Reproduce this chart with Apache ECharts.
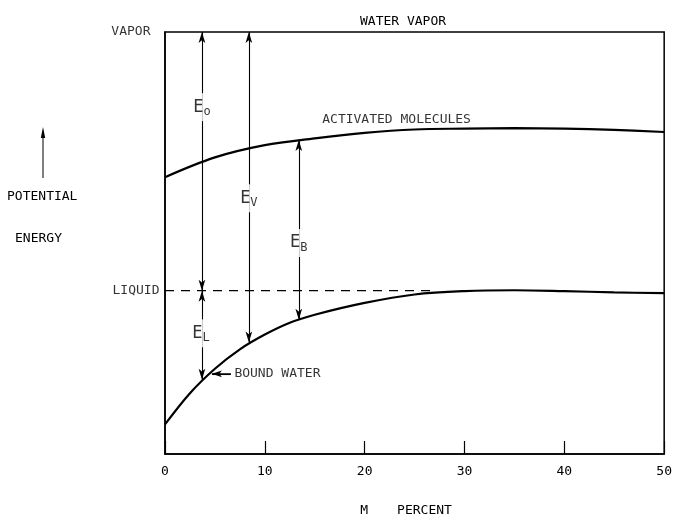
<!DOCTYPE html>
<html><head><meta charset="utf-8">
<script src="https://cdn.jsdelivr.net/npm/echarts@6/dist/echarts.min.js"></script>
<style>html,body{margin:0;padding:0;background:#fff}#c{width:675px;height:522px}</style>
</head><body><div id="c"></div>
<script>
// ---- data (energy on an arbitrary 0..100 scale, M in percent) ----
const xTicks = [0, 10, 20, 30, 40, 50];
const activatedM = [0, 5, 10, 15, 20, 25, 30, 35, 40, 45, 50];
const activatedE = [65.6, 70.3, 73.2, 74.8, 76.1, 76.9, 77.1, 77.2, 77.1, 76.8, 76.3];
const boundM = [0, 2.5, 5, 7.5, 10, 12.5, 15, 20, 25, 30, 35, 40, 45, 50];
const boundE = [7.0, 14.4, 20.2, 24.8, 28.3, 31.1, 33.0, 35.8, 37.8, 38.6, 38.8, 38.6, 38.3, 38.1];
const vaporE = 100;
const liquidE = 38.7;
const liquidEndM = 27;
// energy arrows: position M, from E, to E
const arrowM = [3.7, 3.7, 8.4, 13.4];
const arrowFrom = [38.7, 38.7, 100, 74.4];
const arrowTo = [100, 17.6, 26.4, 31.8];
// energy labels
const eLabelText = ['E{s|o}', 'E{s|V}', 'E{s|B}', 'E{s|L}'];
const eLabelM = [3.7, 8.4, 13.4, 3.6];
const eLabelE = [82.2, 60.6, 50.0, 28.6];
// curve names
const curveLabels = ['ACTIVATED MOLECULES', 'BOUND WATER'];
const curveLabelM = [15.7, 6.9];
const curveLabelE = [79.3, 19.0];
const boundPointerM = [4.7, 6.6];
const boundPointerE = 19.0;

const FONT = '"DejaVu Sans Mono", monospace';
const INK = '#000';

const chart = echarts.init(document.getElementById('c'), null, {renderer: 'canvas'});

const zip = (a, b) => a.map((v, i) => [v, b[i]]);

const arrowLines = arrowM.map((m, i) => [{coord: [m, arrowFrom[i]]}, {coord: [m, arrowTo[i]]}]);

const option = {
  animation: false,
  backgroundColor: '#fff',
  title: {
    text: 'WATER VAPOR', left: 355, top: 10,
    textStyle: {fontFamily: FONT, fontSize: 13, fontWeight: 'normal', color: INK}
  },
  grid: {left: 165, right: 9, top: 32, bottom: 64, show: true, borderColor: INK, borderWidth: 1.5, backgroundColor: 'transparent'},
  xAxis: {
    type: 'value', min: 0, max: 50, interval: 10,
    axisLine: {show: true, lineStyle: {color: INK, width: 1.5}},
    axisTick: {show: true, inside: true, length: 13, lineStyle: {color: INK, width: 1.2}},
    axisLabel: {margin: 11, fontFamily: FONT, fontSize: 13, color: INK, customValues: xTicks},
    splitLine: {show: false},
    name: '{a|M}{b|PERCENT}', nameLocation: 'middle', nameGap: 50,
    nameTextStyle: {fontFamily: FONT, fontSize: 13, color: INK,
      rich: {a: {fontFamily: FONT, fontSize: 13, color: INK}, b: {fontFamily: FONT, fontSize: 13, color: INK, padding: [0, 0, 0, 29]}},
      padding: [0, 17, 0, 0]}
  },
  yAxis: {
    type: 'value', min: 0, max: 100,
    axisLine: {show: true, lineStyle: {color: INK, width: 1.5}},
    axisTick: {show: false}, axisLabel: {show: false}, splitLine: {show: false}
  },
  graphic: [
    {type: 'text', left: 7, top: 190, style: {text: 'POTENTIAL', font: '13px ' + FONT, fill: INK}},
    {type: 'text', left: 15, top: 232, style: {text: 'ENERGY', font: '13px ' + FONT, fill: INK}},
    {type: 'line', shape: {x1: 43, y1: 178, x2: 43, y2: 136}, style: {stroke: INK, lineWidth: 1}},
    {type: 'polygon', shape: {points: [[43, 127], [40.8, 138], [45.2, 138]]}, style: {fill: INK}}
  ],
  series: [
    {
      type: 'line', name: 'activated', data: zip(activatedM, activatedE),
      smooth: 0.35, symbol: 'none',
      lineStyle: {color: INK, width: 2.2}
    },
    {
      type: 'line', name: 'bound', data: zip(boundM, boundE),
      smooth: 0.35, symbol: 'none',
      lineStyle: {color: INK, width: 2.2}
    },
    {
      type: 'line', name: 'liquid', data: [[0, liquidE], [liquidEndM, liquidE]],
      symbol: 'none', lineStyle: {color: INK, width: 1.2, type: [9, 7]},
      markLine: {
        silent: true, symbol: ['arrow', 'arrow'], symbolSize: [5, 11],
        lineStyle: {color: INK, width: 1.1, type: 'solid'},
        label: {show: false},
        data: arrowLines
      }
    },
    {
      type: 'line', name: 'pointer', data: boundPointerM.map(m => [m, boundPointerE]),
      symbol: 'none', lineStyle: {color: INK, width: 1.1},
      markLine: {
        silent: true, symbol: ['arrow', 'none'], symbolSize: [5, 10],
        lineStyle: {color: INK, width: 1.1, type: 'solid'}, label: {show: false},
        data: [[{coord: [boundPointerM[0], boundPointerE]}, {coord: [boundPointerM[1], boundPointerE]}]]
      }
    },
    {
      type: 'scatter', name: 'elabels', symbolSize: 1, itemStyle: {color: 'transparent'}, clip: false, z: 5,
      data: eLabelM.map((m, i) => ({
        value: [m, eLabelE[i]],
        label: {
          show: true, position: 'inside', formatter: eLabelText[i],
          backgroundColor: '#fff', padding: [3, 1, 3, 1],
          fontFamily: FONT, fontSize: 17, color: INK,
          rich: {s: {fontFamily: FONT, fontSize: 12, color: INK, verticalAlign: 'bottom', padding: [10, 0, 0, 0]}}
        }
      }))
    },
    {
      type: 'scatter', name: 'texts', symbolSize: 1, itemStyle: {color: 'transparent'}, clip: false, z: 5,
      data: [
        ...curveLabelM.map((m, i) => ({
          value: [m, curveLabelE[i]],
          label: {show: true, position: 'right', distance: 0, formatter: curveLabels[i], fontFamily: FONT, fontSize: 13, color: INK}
        })),
        {value: [0, vaporE], label: {show: true, position: 'left', distance: 14, formatter: 'VAPOR', fontFamily: FONT, fontSize: 13, color: INK}},
        {value: [0, liquidE], label: {show: true, position: 'left', distance: 5, formatter: 'LIQUID', fontFamily: FONT, fontSize: 13, color: INK}}
      ]
    }
  ]
};
chart.setOption(option);
</script></body></html>
